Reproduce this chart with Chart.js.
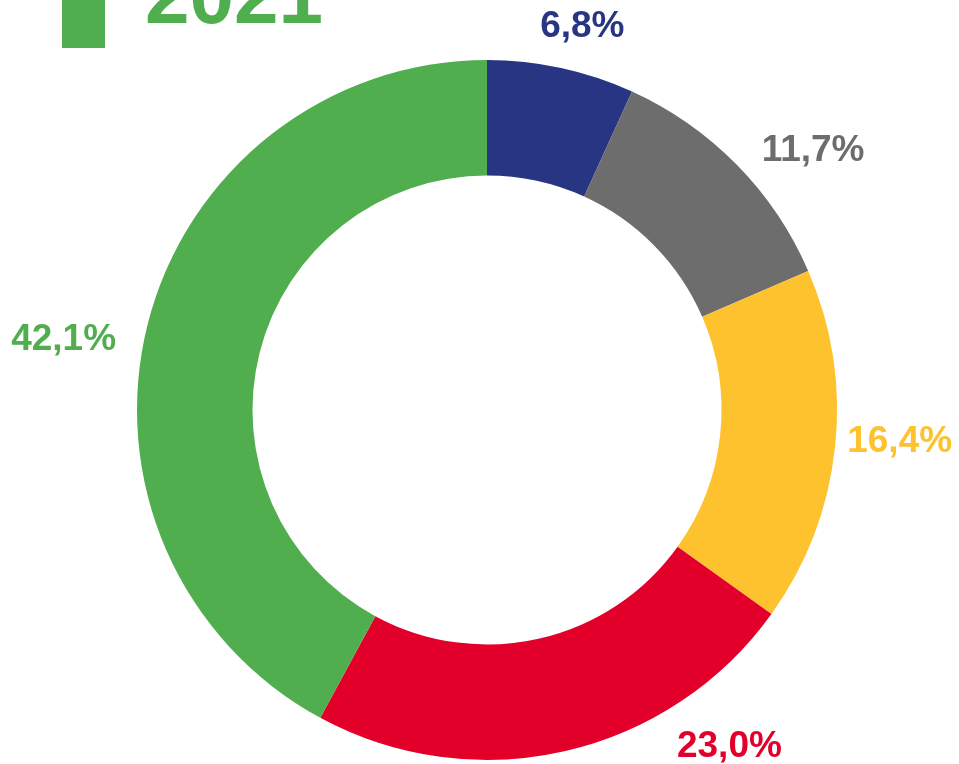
<!DOCTYPE html>
<html>
<head>
<meta charset="utf-8">
<script src="https://cdn.jsdelivr.net/npm/chart.js@4/dist/chart.umd.min.js"></script>
<style>
  html, body { margin: 0; padding: 0; background: #fff; }
  #wrap { width: 959px; height: 764px; position: relative; }
</style>
</head>
<body>
<div id="wrap"><canvas id="chart"></canvas></div>
<script>
// data
const title = "2021";
const categories = ["A", "B", "C", "D", "E"];
const values = [6.8, 11.7, 16.4, 23.0, 42.1];
const colors = ["#283583", "#6d6d6d", "#fec22f", "#e2002b", "#51ae4f"];

// label placement: pushed out from each slice's middle, then nudged
const labelGap = 62;
const labelNudge = [[8, 18], [32, 28], [3, -13], [150, -66], [-24, 30]];

const fmt = (v) => v.toFixed(1).replace(".", ",") + "%";

// draws the title block and the value labels
const labelsPlugin = {
    id: "labels",
    afterDraw(chart) {
        const ctx = chart.ctx;
        ctx.save();

        // title with its little green box
        ctx.fillStyle = "#51ae4f";
        ctx.fillRect(62, 0, 43, 48);
        ctx.font = "bold 80px 'Liberation Sans', Arial, sans-serif";
        ctx.textAlign = "left";
        ctx.textBaseline = "alphabetic";
        ctx.fillText(title, 145, 23);

        // value labels around the ring
        ctx.font = "bold 37px 'Liberation Sans', Arial, sans-serif";
        ctx.textAlign = "center";
        ctx.textBaseline = "middle";
        const meta = chart.getDatasetMeta(0);
        meta.data.forEach((arc, i) => {
            const p = arc.getProps(["x", "y", "startAngle", "endAngle", "outerRadius"], true);
            const mid = (p.startAngle + p.endAngle) / 2;
            const r = p.outerRadius + labelGap;
            const x = p.x + Math.cos(mid) * r + labelNudge[i][0];
            const y = p.y + Math.sin(mid) * r + labelNudge[i][1];
            ctx.fillStyle = colors[i];
            ctx.fillText(fmt(values[i]), x, y + 1);
        });
        ctx.restore();
    },
};

new Chart(document.getElementById("chart"), {
    type: "doughnut",
    data: {
        labels: categories,
        datasets: [
            {
                data: values,
                backgroundColor: colors,
                borderWidth: 0,
            },
        ],
    },
    options: {
        responsive: true,
        maintainAspectRatio: false,
        animation: false,
        cutout: "67%",
        layout: {
            padding: { top: 60, bottom: 4, left: 15, right: 0 },
        },
        plugins: {
            legend: { display: false },
            tooltip: { enabled: false },
        },
    },
    plugins: [labelsPlugin],
});
</script>
</body>
</html>
